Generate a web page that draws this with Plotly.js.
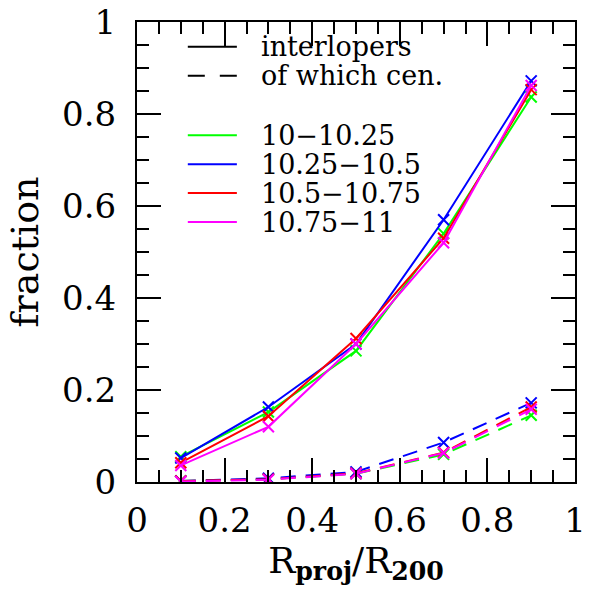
<!DOCTYPE html>
<html>
<head>
<meta charset="utf-8">
<script src="https://cdn.plot.ly/plotly-3.0.1.min.js"></script>
<style>html,body{margin:0;padding:0;background:#fff;}#plot{width:597px;height:593px;}</style>
</head>
<body>
<div id="plot"></div>
<script>
// Data
var rproj = [0.1, 0.3, 0.5, 0.7, 0.9];
var binLabels = ["10\u221210.25", "10.25\u221210.5", "10.5\u221210.75", "10.75\u221211"];
var binColors = ["#00ff00", "#0000ff", "#ff0000", "#ff00ff"];
var interlopers_10_1025   = [0.055, 0.152, 0.285, 0.540, 0.837];
var interlopers_1025_105  = [0.052, 0.163, 0.300, 0.570, 0.872];
var interlopers_105_1075  = [0.042, 0.143, 0.312, 0.530, 0.853];
var interlopers_1075_11   = [0.036, 0.120, 0.300, 0.520, 0.862];
var centrals_10_1025      = [0.002, 0.006, 0.018, 0.060, 0.145];
var centrals_1025_105     = [0.002, 0.008, 0.022, 0.086, 0.172];
var centrals_105_1075     = [0.002, 0.006, 0.019, 0.064, 0.163];
var centrals_1075_11      = [0.001, 0.005, 0.018, 0.063, 0.158];
var styleLabels = ["interlopers", "of which cen."];
var tickVals = [0, 0.2, 0.4, 0.6, 0.8, 1];
var tickText = ["0", "0.2", "0.4", "0.6", "0.8", "1"];

var interlopers = [interlopers_10_1025, interlopers_1025_105, interlopers_105_1075, interlopers_1075_11];
var centrals = [centrals_10_1025, centrals_1025_105, centrals_105_1075, centrals_1075_11];

var FONT = "DejaVu Serif";
var traces = [];
for (var i = 0; i < 4; i++) {
  traces.push({x: rproj, y: interlopers[i], mode: "lines+markers", type: "scatter",
    line: {color: binColors[i], width: 2},
    marker: {symbol: "x-thin-open", size: 11, line: {color: binColors[i], width: 2}},
    showlegend: false, hoverinfo: "skip"});
  traces.push({x: rproj, y: centrals[i], mode: "lines+markers", type: "scatter",
    line: {color: binColors[i], width: 2, dash: "15px,10px"},
    marker: {symbol: "x-thin-open", size: 11, line: {color: binColors[i], width: 2}},
    showlegend: false, hoverinfo: "skip"});
}

// manual legend
var shapes = [], annotations = [];
var lx0 = 0.116, lx1 = 0.228, tx = 0.28;
var rowsY = [0.946, 0.883, 0.754, 0.691, 0.628, 0.565];
var entries = [
  {label: styleLabels[0], color: "#000", dash: "solid"},
  {label: styleLabels[1], color: "#000", dash: "17px,15px"}
];
for (var j = 0; j < 4; j++) entries.push({label: binLabels[j], color: binColors[j], dash: "solid"});
entries.forEach(function (e, k) {
  shapes.push({type: "line", xref: "paper", yref: "paper", x0: lx0, x1: lx1, y0: rowsY[k], y1: rowsY[k],
    line: {color: e.color, width: 2, dash: e.dash}});
  annotations.push({xref: "paper", yref: "paper", x: tx, y: rowsY[k], xanchor: "left", yanchor: "middle",
    text: e.label, showarrow: false, borderpad: 0,
    font: {family: FONT, size: 27, color: "#000"}});
});

var axisCommon = {
  range: [0, 1], tickvals: tickVals, ticktext: tickText, ticks: "inside", ticklen: 24, tickwidth: 2, tickcolor: "#000",
  showline: true, linewidth: 2, linecolor: "#000", mirror: "allticks", showgrid: false, zeroline: false,
  minor: {dtick: 0.05, tick0: 0, ticks: "inside", ticklen: 12, tickwidth: 2, tickcolor: "#000", showgrid: false},
  tickfont: {family: FONT, size: 34, color: "#000"}
};
var xaxis = Object.assign({}, axisCommon, {
  ticklabelstandoff: 7,
  title: {text: "R<sub><b>proj</b></sub>/R<sub><b>200</b></sub>", font: {family: FONT, size: 36, color: "#000"}, standoff: 8}
});
var yaxis = Object.assign({}, axisCommon, {
  ticklabelstandoff: 12,
  title: {text: "fraction", font: {family: FONT, size: 38, color: "#000"}, standoff: 12}
});

var layout = {
  width: 597, height: 593,
  margin: {l: 137, r: 22, t: 22, b: 111},
  paper_bgcolor: "#fff", plot_bgcolor: "#fff",
  xaxis: xaxis, yaxis: yaxis,
  shapes: shapes, annotations: annotations, showlegend: false
};
Plotly.newPlot("plot", traces, layout, {staticPlot: true});
</script>
</body>
</html>
